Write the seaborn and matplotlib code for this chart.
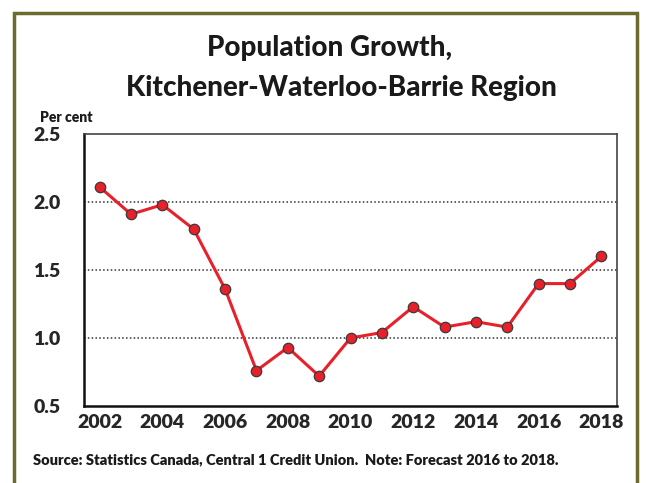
import numpy as np
import pandas as pd
import matplotlib
matplotlib.use("Agg")
import matplotlib.pyplot as plt
import seaborn as sns
from matplotlib.patches import Rectangle

years = list(range(2002, 2019))
growth = [2.11, 1.91, 1.98, 1.80, 1.36, 0.76, 0.93, 0.72, 1.00,
          1.04, 1.23, 1.08, 1.12, 1.08, 1.40, 1.40, 1.60]
label_years = list(range(2002, 2019, 2))
y_ticks = [0.5, 1.0, 1.5, 2.0, 2.5]

df = pd.DataFrame({"year": years, "growth": growth})

sns.set_style("white")
plt.rcParams["font.family"] = ["Lato", "DejaVu Sans"]

fig = plt.figure(figsize=(6.53, 4.83), dpi=100)
W, H = 653, 483
ax = fig.add_axes([84 / W, 1 - 406 / H, (617 - 84) / W, (406 - 134) / H])

sns.lineplot(data=df, x="year", y="growth", ax=ax, color="#e8202a", lw=2.2,
             marker="o", markersize=7.5, markerfacecolor="#e8202a",
             markeredgecolor="#3a3a3a", markeredgewidth=0.9)

ax.set_xlim(2001.5, 2018.5)
ax.set_ylim(0.5, 2.5)
ax.set_yticks(y_ticks)
ax.set_yticklabels([f"{v:.1f}" for v in y_ticks], fontsize=14, fontweight="heavy")
ax.set_xticks(label_years)
ax.set_xticklabels([str(y) for y in label_years], fontsize=14, fontweight="heavy")
ax.set_xticks(np.arange(2001.5, 2019, 1), minor=True)
ax.tick_params(axis="x", which="major", length=0, pad=6)
ax.tick_params(axis="x", which="minor", length=5, width=1.2, color="#222222", direction="out")
ax.tick_params(axis="y", length=5, width=1.2, color="#222222", direction="out", pad=12)
ax.set_xlabel("")
ax.set_ylabel("")

for v in [1.0, 1.5, 2.0]:
    ax.axhline(v, color="#333333", lw=1.1, ls=(0, (1, 1.5)), zorder=0)

for side in ["left", "bottom"]:
    ax.spines[side].set_color("#111111")
    ax.spines[side].set_linewidth(1.8)
for side in ["top", "right"]:
    ax.spines[side].set_color("#444444")
    ax.spines[side].set_linewidth(1.2)

fig.text(330 / W, 1 - 48 / H, "Population Growth,", ha="center", va="center",
         fontsize=20, fontweight="black", color="#1a1a1a")
fig.text(341 / W, 1 - 88 / H, "Kitchener-Waterloo-Barrie Region", ha="center",
         va="center", fontsize=20, fontweight="black", color="#1a1a1a")
fig.text(40 / W, 1 - 117 / H, "Per cent", ha="left", va="center",
         fontsize=10, fontweight="heavy", color="#1a1a1a")
fig.text(33 / W, 1 - 460 / H,
         "Source: Statistics Canada, Central 1 Credit Union.  Note: Forecast 2016 to 2018.",
         ha="left", va="center", fontsize=10.5, fontweight="heavy", color="#1a1a1a")

fig.patches.append(Rectangle((14 / W, -0.05), (637 - 14) / W, 1.05 - 13 / H,
                             transform=fig.transFigure, fill=False,
                             edgecolor="#6b6b2f", linewidth=2.5))

fig.savefig("out.png", dpi=100)
